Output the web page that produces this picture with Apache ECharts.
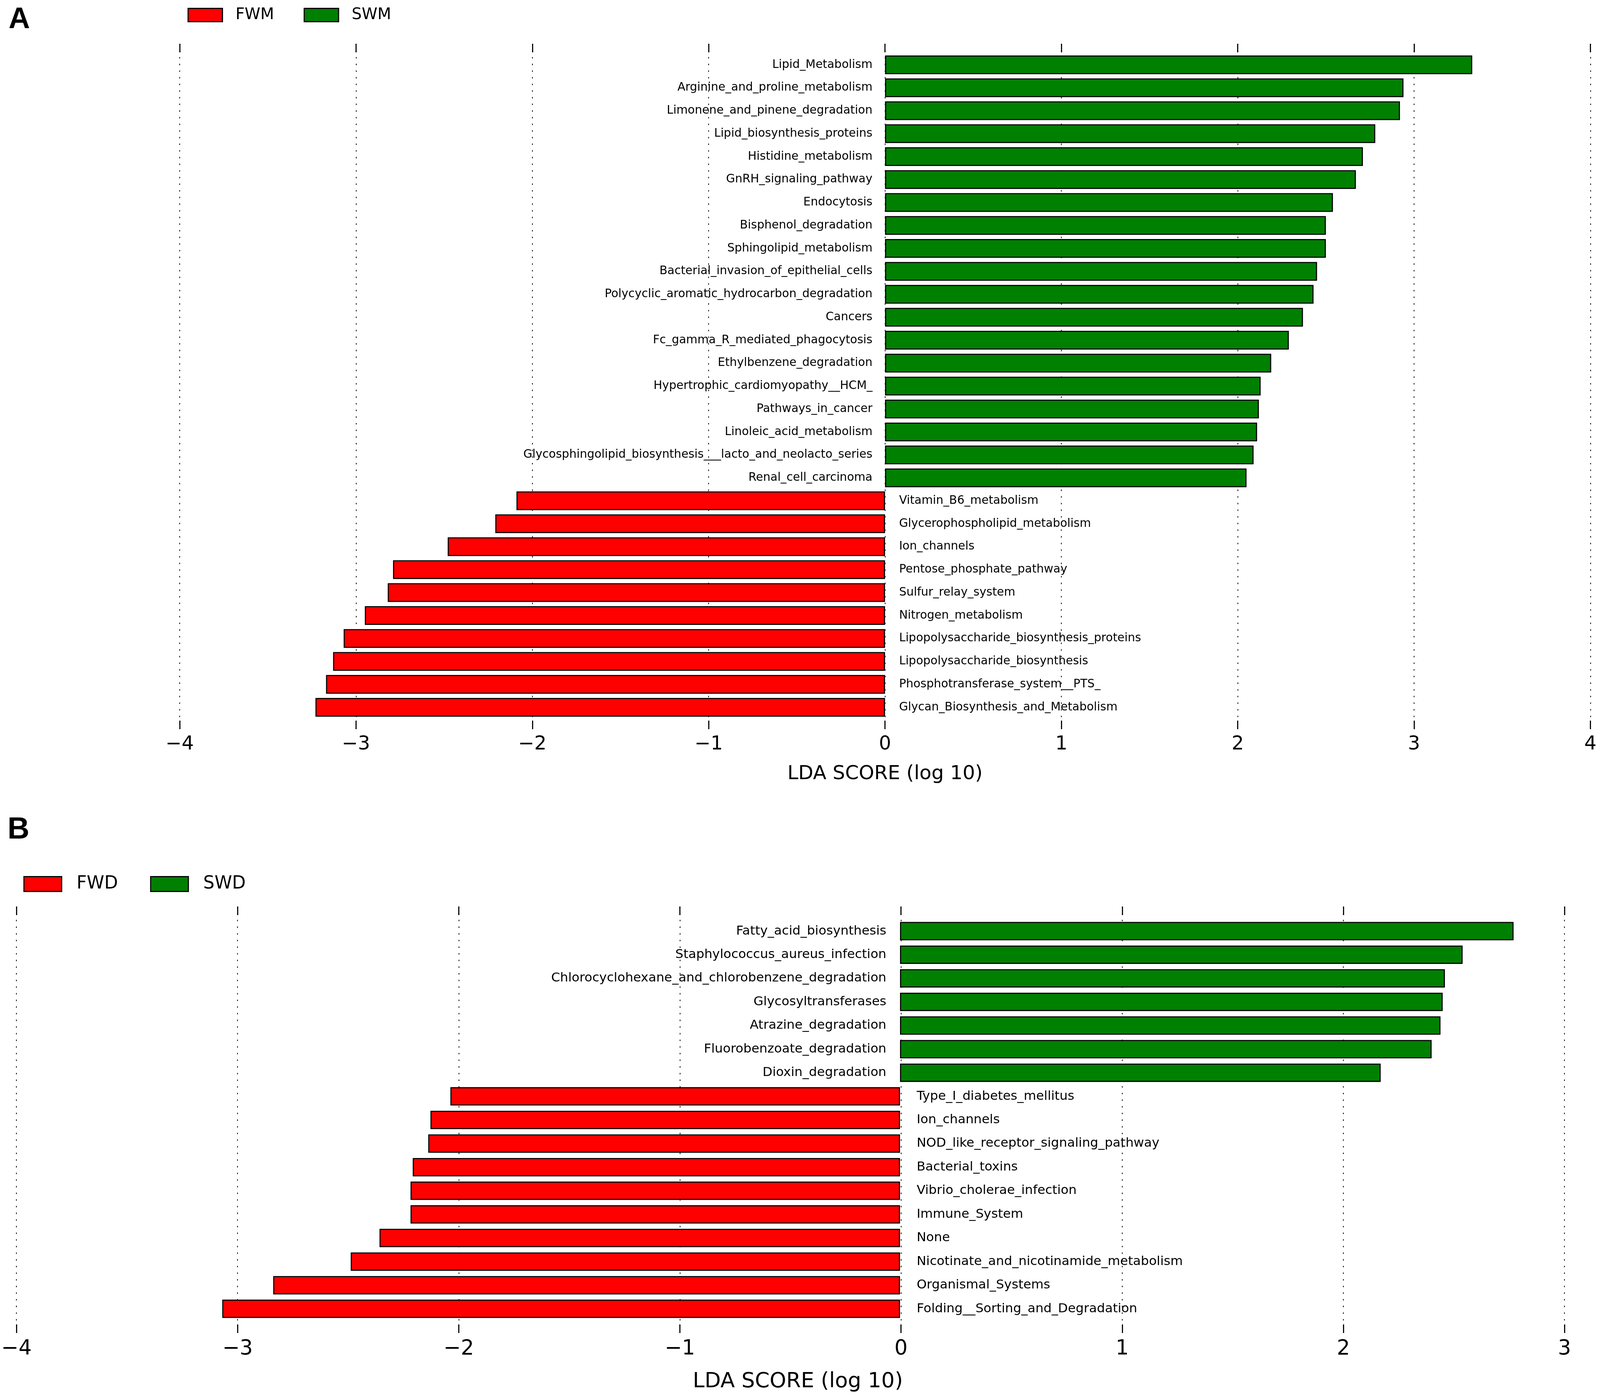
<!DOCTYPE html>
<html>
<head>
<meta charset="utf-8">
<title>LDA score</title>
<script src="https://cdn.jsdelivr.net/npm/echarts@6/dist/echarts.min.js"></script>
<style>
  html, body { margin: 0; padding: 0; background: #fff; overflow: hidden; }
  #chart { width: 100vw; height: 100vh; }
</style>
</head>
<body>
<div id="chart"></div>
<script>
// panel A : FWM vs SWM
var catsA_swm = ['Lipid_Metabolism', 'Arginine_and_proline_metabolism', 'Limonene_and_pinene_degradation',
  'Lipid_biosynthesis_proteins', 'Histidine_metabolism', 'GnRH_signaling_pathway', 'Endocytosis',
  'Bisphenol_degradation', 'Sphingolipid_metabolism', 'Bacterial_invasion_of_epithelial_cells',
  'Polycyclic_aromatic_hydrocarbon_degradation', 'Cancers', 'Fc_gamma_R_mediated_phagocytosis',
  'Ethylbenzene_degradation', 'Hypertrophic_cardiomyopathy__HCM_', 'Pathways_in_cancer',
  'Linoleic_acid_metabolism', 'Glycosphingolipid_biosynthesis___lacto_and_neolacto_series',
  'Renal_cell_carcinoma'];
var valsA_swm = [3.33, 2.94, 2.92, 2.78, 2.71, 2.67, 2.54, 2.50, 2.50, 2.45, 2.43, 2.37, 2.29, 2.19, 2.13, 2.12, 2.11, 2.09, 2.05];
var catsA_fwm = ['Vitamin_B6_metabolism', 'Glycerophospholipid_metabolism', 'Ion_channels',
  'Pentose_phosphate_pathway', 'Sulfur_relay_system', 'Nitrogen_metabolism',
  'Lipopolysaccharide_biosynthesis_proteins', 'Lipopolysaccharide_biosynthesis',
  'Phosphotransferase_system__PTS_', 'Glycan_Biosynthesis_and_Metabolism'];
var valsA_fwm = [-2.09, -2.21, -2.48, -2.79, -2.82, -2.95, -3.07, -3.13, -3.17, -3.23];

// panel B : FWD vs SWD
var catsB_swd = ['Fatty_acid_biosynthesis', 'Staphylococcus_aureus_infection',
  'Chlorocyclohexane_and_chlorobenzene_degradation', 'Glycosyltransferases', 'Atrazine_degradation',
  'Fluorobenzoate_degradation', 'Dioxin_degradation'];
var valsB_swd = [2.77, 2.54, 2.46, 2.45, 2.44, 2.40, 2.17];
var catsB_fwd = ['Type_I_diabetes_mellitus', 'Ion_channels', 'NOD_like_receptor_signaling_pathway',
  'Bacterial_toxins', 'Vibrio_cholerae_infection', 'Immune_System', 'None',
  'Nicotinate_and_nicotinamide_metabolism', 'Organismal_Systems', 'Folding__Sorting_and_Degradation'];
var valsB_fwd = [-2.03, -2.12, -2.13, -2.20, -2.21, -2.21, -2.35, -2.48, -2.83, -3.06];

var ticksA = [-4, 4];
var ticksB = [-4, 3];

var RED = '#ff0000';
var GREEN = '#008000';
var FONT = 'DejaVu Sans';

// layout was measured on a 4328x3582 canvas; scale to whatever the viewport really is
var el = document.getElementById('chart');
var sx = el.clientWidth / 4328;
var sy = el.clientHeight / 3582;
var fs = Math.min(sx, sy);
function X(v){ return v * sx; }
function Y(v){ return v * sy; }
function F(v){ return v * fs; }

function fmtTick(v){
  return v < 0 ? '\u2212' + (-v) : String(v);
}

// pad one group with '-' so both series share the category slots
function padData(vals, before, after){
  var out = [];
  for(var i = 0; i < before; i++) out.push('-');
  out = out.concat(vals);
  for(var j = 0; j < after; j++) out.push('-');
  return out;
}

function frameAxes(gridIndex, range, fontSize, margin, nameGap, nameShift){
  var tick = { show: true, inside: true, length: Y(22), lineStyle: { color: '#000', width: F(3) } };
  var bottom = {
    type: 'value', gridIndex: gridIndex, position: 'bottom',
    min: range[0], max: range[1], interval: 1,
    axisLine: { show: false },
    axisTick: tick,
    axisLabel: { fontSize: F(fontSize), color: '#000', margin: Y(margin), fontFamily: FONT, formatter: fmtTick },
    splitLine: { show: true, lineStyle: { color: '#111', width: F(2.2), type: [F(4), F(14)] } },
    name: 'LDA SCORE (log 10)', nameLocation: 'middle', nameGap: Y(nameGap),
    nameTextStyle: { fontSize: F(fontSize + 1), color: '#000', fontFamily: FONT, padding: [0, 0, 0, X(nameShift)] }
  };
  var top = {
    type: 'value', gridIndex: gridIndex, position: 'top',
    min: range[0], max: range[1], interval: 1,
    axisLine: { show: false },
    axisTick: tick,
    axisLabel: { show: false },
    splitLine: { show: false }
  };
  return [bottom, top];
}

function barSeries(name, color, data, xIdx, yIdx, pos, dist, fontSize, barWidth){
  return {
    name: name, type: 'bar', xAxisIndex: xIdx, yAxisIndex: yIdx,
    data: data, barWidth: Y(barWidth), barGap: '-100%',
    itemStyle: { color: color, borderColor: '#000', borderWidth: F(3) },
    label: {
      show: true, position: pos, distance: X(dist), formatter: '{b}',
      fontSize: F(fontSize), color: '#000', fontFamily: FONT
    }
  };
}

var catsA = catsA_swm.concat(catsA_fwm);
var catsB = catsB_swd.concat(catsB_fwd);

var xAxes = []
  .concat(frameAxes(0, ticksA, 52, 15, 90, 0))
  .concat([{ type: 'value', gridIndex: 1, min: ticksA[0], max: ticksA[1], show: false }])
  .concat(frameAxes(2, ticksB, 56, 15, 98, 40))
  .concat([{ type: 'value', gridIndex: 3, min: ticksB[0], max: ticksB[1], show: false }]);

var option = {
  animation: false,
  backgroundColor: '#fff',
  textStyle: { fontFamily: FONT },
  title: [
    { text: 'A', left: X(18), top: Y(8), textStyle: { fontSize: F(80), fontWeight: 'bold', color: '#000', fontFamily: 'Liberation Sans' } },
    { text: 'B', left: X(15), top: Y(2082), textStyle: { fontSize: F(82), fontWeight: 'bold', color: '#000', fontFamily: 'Liberation Sans' } }
  ],
  legend: [
    {
      data: ['FWM', 'SWM'], left: X(502), top: Y(13), orient: 'horizontal',
      itemWidth: X(93), itemHeight: Y(34), itemGap: X(80), icon: 'rect',
      itemStyle: { borderColor: '#000', borderWidth: F(3) },
      textStyle: { fontSize: F(43), color: '#000', padding: [0, 0, 0, X(30)] }
    },
    {
      data: ['FWD', 'SWD'], left: X(58), top: Y(2236), orient: 'horizontal',
      itemWidth: X(102), itemHeight: Y(38), itemGap: X(87), icon: 'rect',
      itemStyle: { borderColor: '#000', borderWidth: F(3) },
      textStyle: { fontSize: F(48), color: '#000', padding: [0, 0, 0, X(35)] }
    }
  ],
  grid: [
    { left: X(486), width: X(3816), top: Y(112), height: Y(1755) },
    { left: X(486), width: X(3816), top: Y(136.6), height: Y(1703.8) },
    { left: X(38), width: X(4194), top: Y(2321), height: Y(1092) },
    { left: X(38), width: X(4194), top: Y(2353.8), height: Y(1027.5) }
  ],
  xAxis: xAxes,
  yAxis: [
    { type: 'value', gridIndex: 0, show: false },
    { type: 'category', gridIndex: 1, data: catsA, inverse: true, show: false },
    { type: 'value', gridIndex: 2, show: false },
    { type: 'category', gridIndex: 3, data: catsB, inverse: true, show: false }
  ],
  series: [
    barSeries('FWM', RED, padData(valsA_fwm, catsA_swm.length, 0), 2, 1, 'right', 38, 31.3, 48),
    barSeries('SWM', GREEN, padData(valsA_swm, 0, catsA_fwm.length), 2, 1, 'left', 34, 31.3, 48),
    barSeries('FWD', RED, padData(valsB_fwd, catsB_swd.length, 0), 5, 3, 'right', 45, 34.5, 47),
    barSeries('SWD', GREEN, padData(valsB_swd, 0, catsB_fwd.length), 5, 3, 'left', 37, 34.5, 47)
  ]
};

var chart = echarts.init(el, null, { renderer: 'canvas' });
chart.setOption(option);
</script>
</body>
</html>
